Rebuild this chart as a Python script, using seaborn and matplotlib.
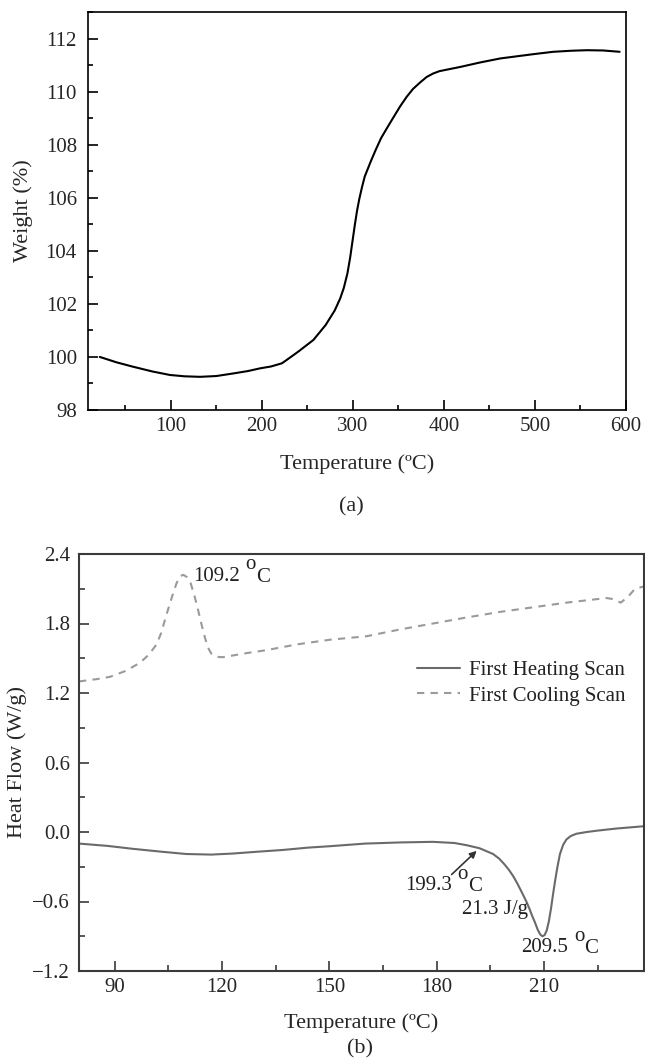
import numpy as np
import pandas as pd
import matplotlib
matplotlib.use("Agg")
import matplotlib.pyplot as plt
from matplotlib.ticker import MultipleLocator
import seaborn as sns

# ---------------- data ----------------
tga_temp = [22, 40, 58.6, 80, 99, 115, 132, 150, 169, 185, 198, 210, 216, 222, 227,
            240, 256.6, 270, 280, 286, 290, 294, 297, 299.5, 302, 304.5, 307, 310, 313,
            316.5, 320, 325, 331, 337, 344, 352, 359, 366, 374, 381, 388, 395, 405, 418,
            440, 462, 480, 498, 520, 540, 557, 575, 593]
tga_weight = [100.0, 99.8, 99.63, 99.45, 99.32, 99.27, 99.25, 99.28, 99.38, 99.47, 99.57,
              99.64, 99.70, 99.76, 99.88, 100.2, 100.64, 101.2, 101.75, 102.2, 102.6, 103.15,
              103.75, 104.35, 104.95, 105.5, 105.95, 106.4, 106.8, 107.1, 107.4, 107.8,
              108.25, 108.6, 109.0, 109.45, 109.8, 110.1, 110.35, 110.55, 110.68, 110.77,
              110.84, 110.93, 111.1, 111.25, 111.33, 111.41, 111.50, 111.54, 111.56,
              111.55, 111.50]

heat_temp = [80, 88, 95, 103, 110, 117, 123, 130, 137, 144, 150, 160, 170, 179, 185, 188.4,
             192, 195.8, 197.5, 199, 200.3, 201.4, 202.5, 203.5, 204.3, 205.1, 206, 206.8,
             207.5, 208.3, 209, 209.6, 210.2, 210.8, 211.4, 212, 212.6, 213.2, 213.8, 214.5,
             215.4, 216.3, 217.5, 219.1, 222, 225, 230.3, 238]
heat_flow = [-0.10, -0.12, -0.145, -0.17, -0.19, -0.195, -0.186, -0.17, -0.155, -0.135,
             -0.123, -0.10, -0.09, -0.085, -0.095, -0.114, -0.14, -0.19, -0.23, -0.28,
             -0.33, -0.38, -0.44, -0.50, -0.55, -0.60, -0.665, -0.73, -0.78, -0.845, -0.885,
             -0.90, -0.89, -0.85, -0.77, -0.66, -0.53, -0.41, -0.30, -0.19, -0.11, -0.065,
             -0.035, -0.015, 0.0, 0.012, 0.03, 0.05]

cool_temp = [80, 85, 88.7, 93, 97, 99.5, 101.7, 103, 104.5, 106, 107.3, 108.3, 109.2, 110.2,
             111.2, 112.2, 113.2, 114.2, 115.2, 116.1, 117, 118, 119.2, 120.5, 126, 132.4,
             141, 150.2, 160.4, 170, 179, 188, 197.7, 207, 216.3, 222, 227.5, 229.5, 231.5,
             233.5, 235.5, 238]
cool_flow = [1.30, 1.32, 1.34, 1.39, 1.46, 1.53, 1.62, 1.72, 1.88, 2.03, 2.15, 2.21, 2.22,
             2.20, 2.15, 2.05, 1.93, 1.80, 1.68, 1.59, 1.54, 1.52, 1.51, 1.51, 1.54, 1.57,
             1.62, 1.66, 1.69, 1.75, 1.80, 1.85, 1.90, 1.94, 1.98, 2.00, 2.02, 2.01, 1.98,
             2.03, 2.10, 2.12]

series_names = ["First Heating Scan", "First Cooling Scan"]
top_xticks = [100, 200, 300, 400, 500, 600]
top_yticks = [98, 100, 102, 104, 106, 108, 110, 112]
bot_xticks = [90, 120, 150, 180, 210]
bot_yticks = [-1.2, -0.6, 0.0, 0.6, 1.2, 1.8, 2.4]

# ---------------- style ----------------
sns.set_theme(style="ticks")
plt.rcParams['font.family'] = ['Liberation Serif', 'DejaVu Serif']

fig = plt.figure(figsize=(6.45, 10.62), dpi=100)
W, H = 645, 1062
ax1 = fig.add_axes([88 / W, (H - 410) / H, 538 / W, 398 / H])
ax2 = fig.add_axes([79 / W, (H - 971) / H, 565 / W, 417 / H])

# ---------------- top panel ----------------
df_tga = pd.DataFrame({"T": tga_temp, "W": tga_weight})
sns.lineplot(data=df_tga, x="T", y="W", ax=ax1, color="black", linewidth=1.5,
             sort=False, estimator=None)
ax1.set_xlim(9, 600)
ax1.set_ylim(98, 113)
ax1.set_xticks(top_xticks)
ax1.set_yticks(top_yticks)
ax1.xaxis.set_minor_locator(MultipleLocator(50))
ax1.yaxis.set_minor_locator(MultipleLocator(1))
for s in ax1.spines.values():
    s.set_visible(True)
    s.set_linewidth(1.2)
    s.set_color("black")
ax1.tick_params(which="both", direction="in", top=False, right=False, color="black", width=1.2)
ax1.tick_params(which="major", length=7)
ax1.tick_params(which="minor", length=3.5)
ax1.tick_params(axis="y", which="major", labelsize=15, pad=8)
ax1.tick_params(axis="x", which="major", labelsize=15, pad=5)
ax1.set_xlabel("Temperature (ºC)", fontsize=16)
ax1.set_ylabel("Weight (%)", fontsize=16)
ax1.xaxis.label.set_va("center")
ax1.xaxis.set_label_coords(0.5, (410 - 464) / 398)
ax1.yaxis.label.set_va("center")
ax1.yaxis.set_label_coords((23 - 88) / 538, 0.5)

# ---------------- bottom panel ----------------
df_heat = pd.DataFrame({"T": heat_temp, "HF": heat_flow, "scan": series_names[0]})
df_cool = pd.DataFrame({"T": cool_temp, "HF": cool_flow, "scan": series_names[1]})
sns.lineplot(data=df_heat, x="T", y="HF", ax=ax2, color="#6a6a6a", linewidth=1.5,
             sort=False, estimator=None, label=series_names[0])
sns.lineplot(data=df_cool, x="T", y="HF", ax=ax2, color="#9a9a9a", linewidth=1.5,
             sort=False, estimator=None, label=series_names[1], linestyle=(0, (3.5, 3)))
ax2.set_xlim(80, 238)
ax2.set_ylim(-1.2, 2.4)
ax2.set_xticks(bot_xticks)
ax2.set_yticks(bot_yticks)
ax2.set_yticklabels([f"{v:.1f}".replace("-", "\u2212") for v in bot_yticks])
ax2.xaxis.set_minor_locator(MultipleLocator(15))
ax2.yaxis.set_minor_locator(MultipleLocator(0.3))
for s in ax2.spines.values():
    s.set_visible(True)
    s.set_linewidth(1.5)
    s.set_color("#3a3a3a")
ax2.tick_params(which="both", direction="in", top=False, right=False, color="#3a3a3a", width=1.2)
ax2.tick_params(which="major", length=7.5)
ax2.tick_params(which="minor", length=4)
ax2.tick_params(axis="y", which="major", labelsize=15, pad=6.5)
ax2.tick_params(axis="x", which="major", labelsize=15, pad=5)
ax2.set_xlabel("Temperature (ºC)", fontsize=16)
ax2.set_ylabel("Heat Flow (W/g)", fontsize=16)
ax2.xaxis.label.set_va("center")
ax2.xaxis.set_label_coords(0.5, (971 - 1023) / 417)
ax2.yaxis.label.set_va("center")
ax2.yaxis.set_label_coords((17 - 79) / 565, 0.5)

leg = ax2.legend(frameon=False, loc="upper left", bbox_to_anchor=(0.5975, 0.745),
                 fontsize=15, borderpad=0, borderaxespad=0, handlelength=2.1,
                 handletextpad=0.4, labelspacing=0.3)
for txt in leg.get_texts():
    txt.set_color("#222222")

TXT = "#222222"


def deg_label(ax, x, y, number):
    t1 = ax.text(x, y, number, fontsize=15, ha="left", va="center", color=TXT)
    t2 = ax.annotate("o", xy=(1, 0), xycoords=t1, xytext=(4.0, 8.0),
                     textcoords="offset points", fontsize=15, ha="left", va="bottom", color=TXT)
    ax.annotate("C", xy=(1, 0), xycoords=t2, xytext=(0.3, -8.8),
                textcoords="offset points", fontsize=15, ha="left", va="bottom", color=TXT)


# annotations
deg_label(ax2, 111.9, 2.21, "109.2")
deg_label(ax2, 171.1, -0.46, "199.3")
ax2.text(205.6, -0.666, "21.3 J/g", fontsize=15, ha="right", va="center", color=TXT)
deg_label(ax2, 203.7, -0.996, "209.5")
ax2.annotate("", xy=(191.2, -0.163), xytext=(184.2, -0.367),
             arrowprops=dict(arrowstyle="-|>", color="#333333", lw=1.2,
                             mutation_scale=10, shrinkA=0, shrinkB=0))

# panel labels
fig.text(351.5 / W, (H - 507) / H, "(a)", fontsize=16, ha="center", va="center")
fig.text(360 / W, (H - 1049) / H, "(b)", fontsize=16, ha="center", va="center")

fig.savefig("out.png", dpi=100)
